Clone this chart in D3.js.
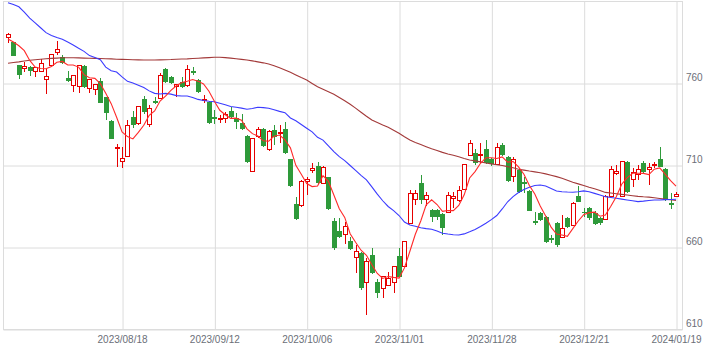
<!DOCTYPE html>
<html>
<head>
<meta charset="utf-8">
<script src="https://cdn.jsdelivr.net/npm/d3@7"></script>
<style>
  body { margin: 0; background: #fff; }
  svg { display: block; font-family: "Liberation Sans", Arial, sans-serif; }
</style>
</head>
<body>
<div id="wrapper"></div>
<script>
const dates = [
  "2023/07/19","2023/07/20","2023/07/21","2023/07/24","2023/07/25","2023/07/26","2023/07/27","2023/07/28","2023/07/31",
  "2023/08/01","2023/08/02","2023/08/03","2023/08/04","2023/08/07","2023/08/08","2023/08/09","2023/08/10","2023/08/14","2023/08/15","2023/08/16","2023/08/17","2023/08/18",
  "2023/08/21","2023/08/22","2023/08/23","2023/08/24","2023/08/25","2023/08/28","2023/08/29","2023/08/30","2023/08/31","2023/09/01",
  "2023/09/04","2023/09/05","2023/09/06","2023/09/07","2023/09/08","2023/09/11","2023/09/12",
  "2023/09/13","2023/09/14","2023/09/15","2023/09/19","2023/09/20","2023/09/21","2023/09/22","2023/09/25","2023/09/26","2023/09/27","2023/09/28","2023/09/29",
  "2023/10/02","2023/10/03","2023/10/04","2023/10/05","2023/10/06",
  "2023/10/10","2023/10/11","2023/10/12","2023/10/13","2023/10/16","2023/10/17","2023/10/18","2023/10/19","2023/10/20","2023/10/23","2023/10/24","2023/10/25","2023/10/26","2023/10/27","2023/10/30","2023/10/31","2023/11/01",
  "2023/11/02","2023/11/06","2023/11/07","2023/11/08","2023/11/09","2023/11/10","2023/11/13","2023/11/14","2023/11/15","2023/11/16","2023/11/17","2023/11/20","2023/11/21","2023/11/22","2023/11/24","2023/11/27","2023/11/28",
  "2023/11/29","2023/11/30","2023/12/01","2023/12/04","2023/12/05","2023/12/06","2023/12/07","2023/12/08","2023/12/11","2023/12/12","2023/12/13","2023/12/14","2023/12/15","2023/12/18","2023/12/19","2023/12/20","2023/12/21",
  "2023/12/22","2023/12/25","2023/12/26","2023/12/27","2023/12/28","2023/12/29","2024/01/04","2024/01/05","2024/01/09","2024/01/10","2024/01/11","2024/01/12","2024/01/15","2024/01/16","2024/01/17","2024/01/18","2024/01/19"
];

const opens = [
  788.2,785.3,771,769.3,770,767.6,767.4,762.6,771.1,779.2,776,763.5,758.9,758,770.7,757.1,756.5,761.5,751.6,737.1,
  720.8,712.3,715.4,739.4,735.7,750.4,734.7,749.3,751,768.8,764,758,761.1,758.5,767.6,762.1,749.5,748.9,739.4,738.2,
  738.4,743.4,738.8,736.1,728,706.6,727.6,732.3,719.5,731.6,729.8,732.3,713.8,686.5,685.5,700.1,706.8,709.7,699.1,702.8,
  676.2,670.3,668,664.1,654,656.5,638.5,655.4,638.8,635.1,637.1,638.5,654.6,648.3,674.8,689,699.1,689.4,682.9,682.9,
  680.4,681.6,690,688.5,695.5,716.4,717.4,716.3,719.9,713.8,710.7,722.5,715.4,703.2,707.3,700.1,694.5,676.3,680.9,678.4,
  665.6,674.8,666.2,677.8,673.3,691.4,681.8,683.9,681.2,677.8,677.2,691,705.2,691,712.1,701.6,704.8,711.7,707.7,710,
  713.8,707.7,687.3,691.4
];
const highs = [
  790.5,785.5,771.5,773.3,770.5,770.2,774.8,769,778,786.1,777.4,767.6,765,771.2,771,763,760,763.2,752,737.5,
  723.1,721.5,737.7,743.2,746.5,752.4,746.9,752,766.2,769.5,764.5,759.5,764.1,771.3,769.9,762.5,753,749.5,743.8,740.5,
  742.8,745.9,741.8,741.2,728.5,727,733.7,733,731.5,734.7,734.7,736.7,714.2,691,701,703.2,711.7,712.3,709.5,703.2,
  677.8,677.8,675.7,666.6,661.5,657,653.6,659.5,640.8,642.8,645.2,649,659.7,664,695,695,704.2,694,683.3,683.3,
  681,694,694,697.5,711,725.5,720,723.5,725.5,714.5,723.5,723.7,716,715.4,708,703.2,695,681.8,681.5,679,
  667.6,675.5,679.8,678.5,687.5,697.5,683.9,684.5,682,678.5,692,709.7,710.3,713,712.5,708.3,710.3,712.5,711.3,712.3,
  721.5,708.2,693.4,694
];
const lows = [
  785,776.5,762.5,767.2,764.6,763.8,767,753.6,770.5,777.4,772,761,755,754,757.5,754,753,748,737.7,726,
  709.3,708.3,715,732.7,735,741.4,733.3,747.5,750.5,760.5,759.5,752,757.5,758,765.2,754.5,747.9,735.5,735.3,736,
  735.7,739,732.3,731.5,711.5,706,727,721.5,719,722.5,723.5,717,697,677,685,692,705.2,699,698.5,683,
  658.5,666,662.1,658.5,644.3,634,619,644,629.2,629.4,636.5,632,642,648,674.5,685.9,686.5,685.3,675.7,676.8,
  667.6,681,683.9,688,695,715.8,710.3,711.5,711,710,710.2,716,700,700.1,693.5,693,682,673.7,676,663,
  662.6,660.5,665.5,672,673,687.5,678.8,677,673.5,674,676.5,690.5,704.2,690.5,693.5,697.1,701.2,705.5,698.1,708.3,
  709,688.5,683.3,690.8
];
const closes = [
  789.8,777,765.2,770.5,767.8,769.8,772.3,764.4,777.4,780.9,772.3,761.3,764.6,770.9,758,762.7,759.5,748.3,741.8,726.3,
  721.2,714.4,734.5,734.7,746.1,742.8,744.9,747.9,765,760.9,760.1,759.1,758,768.7,766.4,755,750.4,736.1,738.2,738.6,
  741.4,739.4,736.7,732.1,712.3,726.6,732.1,722.1,731,727.6,730.2,717.4,697.7,677.6,700.5,701.6,708.3,699.5,708.9,683.3,
  659.9,666.6,673.1,659.1,657.4,635.5,651.3,644.3,632.4,642.2,641.2,648.7,642.2,663.5,693,693,689,691.8,678.8,678.4,
  672.1,691.8,691.4,694.5,710.7,723.5,711.3,716.8,711.3,710.7,721.1,716.4,700.7,713.4,694,698.7,682.4,674.8,676.8,663.5,
  664.6,661.5,671.7,672.7,687,687.9,680.9,677.8,674.1,674.8,691.4,707.7,706.5,712.6,694,705.6,707.7,706.2,708.9,710.5,
  709.3,689,685.9,692.6
];
// closes of the 4 sessions before the first candle, for the 5-day average
const priorCloses = [786, 776.7, 785.5, 797.5];

const ma25 = [
  809.3,808.2,806.8,803.5,799.9,797,794,791,789.3,788,787,785.3,783.5,781.5,779.6,777,775.8,774.5,770,767.8,
  767,764,761.3,760.3,759,757.5,755.5,754,753.6,754,753.5,752.6,752.4,752.4,751.5,750.3,749.6,749.2,748.9,748,
  747,746,745.5,745,744.3,744.8,745.5,745.3,744.9,744,743,742.2,739,737.3,735,732.7,730.5,727.2,725.5,722,
  718.5,715.4,713,710,707,704,701.2,697,692.5,688.5,685,682.5,679.5,675.5,673.7,673,672,671.5,671.1,670,
  668.7,668.2,667.8,667.6,668.3,669.6,671,672.8,674.8,677,679.5,683.5,687.9,691,693.5,695.3,696.8,697.8,698.1,697.5,
  696,694.5,694,693.8,693.7,694,694.5,694,693,692,691,690.5,690,689.5,689,688.5,688,688.3,688.7,689,
  689,689.2,689.3,689.4
];
const ma75 = [
  772.3,772.8,773.2,773.7,774.2,774.5,774.8,775.1,775.3,775.5,775.7,775.7,775.7,775.6,775.5,775.4,775.3,775.2,775.1,775,
  774.8,774.7,774.6,774.5,774.4,774.3,774.3,774.3,774.4,774.5,774.6,774.8,774.9,775,775.2,775.4,775.6,775.8,776,776,
  775.8,775.5,775.1,774.7,774.3,773.8,773.2,772.6,771.9,770.8,769.6,768.2,766.8,765.2,763.6,762.1,760,758,756.5,755,
  753.5,751.5,749.5,747.3,745,742.5,740,737.7,736.2,734.7,733.3,731.5,729.7,727.5,725.5,724,722.8,721.5,720.2,719.2,
  718,717,716.2,715.3,714.3,713.4,712.8,712.2,711.5,711,710.5,710,709.3,708.6,707.7,707.2,706.6,706.1,705.6,704.9,
  704.1,703.2,702.2,701,699.8,698.8,697.8,696.7,695.8,694.8,693.6,693.2,692.8,692.4,692,691.6,691.2,690.9,690.7,690.3,
  689.9,689.5,689.1,688.7
];

const tickDates = ["2023/08/18","2023/09/12","2023/10/06","2023/11/01","2023/11/28","2023/12/21","2024/01/19"];
const priceTicks = [610, 660, 710, 760];

const allCloses = priorCloses.concat(closes);
const ma5 = closes.map((c, i) => d3.mean(allCloses.slice(i, i + 5)));

const candles = dates.map((d, i) => ({
  date: d, open: opens[i], high: highs[i], low: lows[i], close: closes[i]
}));

let dimensions = {
  width: 721,
  height: 353,
  left: 3.5,
  right: 682.5,
  top: 1.5,
  bottom: 329.5
};

const svg = d3.select("#wrapper")
  .append("svg")
  .attr("width", dimensions.width)
  .attr("height", dimensions.height);

const xScale = d3.scalePoint()
  .domain(dates)
  .range([8, 676]);

const yScale = d3.scaleLinear()
  .domain([610, 810])
  .range([dimensions.bottom, dimensions.top]);

const gridColor = "#dcdcdc";
const textColor = "#6b6f78";

// frame
svg.append("rect")
  .attr("x", dimensions.left)
  .attr("y", dimensions.top)
  .attr("width", dimensions.right - dimensions.left)
  .attr("height", dimensions.bottom - dimensions.top)
  .attr("fill", "none")
  .attr("stroke", gridColor);

// x axis with vertical grid
const xAxis = svg.append("g")
  .attr("transform", `translate(0,${dimensions.bottom})`)
  .call(d3.axisBottom(xScale)
    .tickValues(tickDates)
    .tickSizeInner(-(dimensions.bottom - dimensions.top))
    .tickSizeOuter(0)
    .tickPadding(6));
xAxis.select(".domain").remove();
xAxis.selectAll(".tick line")
  .attr("stroke", gridColor)
  .attr("transform", "translate(0.5,0)");
xAxis.selectAll(".tick text")
  .attr("fill", textColor)
  .style("font-size", "10px");

// y axis on the right with horizontal grid
const yAxis = svg.append("g")
  .attr("transform", `translate(${dimensions.right},0)`)
  .call(d3.axisRight(yScale)
    .tickValues(priceTicks)
    .tickSizeInner(-(dimensions.right - dimensions.left))
    .tickSizeOuter(0)
    .tickPadding(3.5));
yAxis.select(".domain").remove();
yAxis.selectAll(".tick line").attr("stroke", gridColor);
yAxis.selectAll(".tick text")
  .attr("fill", textColor)
  .attr("dy", -3)
  .style("font-size", "10px");

// candles
const upColor = "#e60000";
const downColor = "#2e9a3a";

const candleG = svg.append("g").attr("shape-rendering", "crispEdges");

const cx = d => Math.round(xScale(d.date)) + 0.5;

candleG.selectAll(".wick")
  .data(candles)
  .enter()
  .append("line")
  .attr("x1", cx)
  .attr("x2", cx)
  .attr("y1", d => yScale(d.high))
  .attr("y2", d => yScale(d.low))
  .attr("stroke", d => d.close >= d.open ? upColor : downColor);

candleG.selectAll(".body")
  .data(candles)
  .enter()
  .append("rect")
  .attr("x", d => d.close >= d.open ? cx(d) - 2 : cx(d) - 2.5)
  .attr("width", d => d.close >= d.open ? 4 : 5)
  .attr("y", d => yScale(Math.max(d.open, d.close)))
  .attr("height", d => Math.max(1, yScale(Math.min(d.open, d.close)) - yScale(Math.max(d.open, d.close))))
  .attr("fill", d => d.close >= d.open ? "#fff" : downColor)
  .attr("stroke", d => d.close >= d.open ? upColor : "none");

// moving averages
const line = d3.line()
  .x((d, i) => xScale(dates[i]))
  .y(d => yScale(d));

svg.append("path")
  .datum(ma75)
  .attr("d", line)
  .attr("fill", "none")
  .attr("stroke", "#a33a3a")
  .attr("stroke-width", 1.1);

svg.append("path")
  .datum(ma25)
  .attr("d", line)
  .attr("fill", "none")
  .attr("stroke", "#3b3bff")
  .attr("stroke-width", 1.1);

svg.append("path")
  .datum(ma5)
  .attr("d", line)
  .attr("fill", "none")
  .attr("stroke", "#ff2a2a")
  .attr("stroke-width", 1.1);
</script>
</body>
</html>
